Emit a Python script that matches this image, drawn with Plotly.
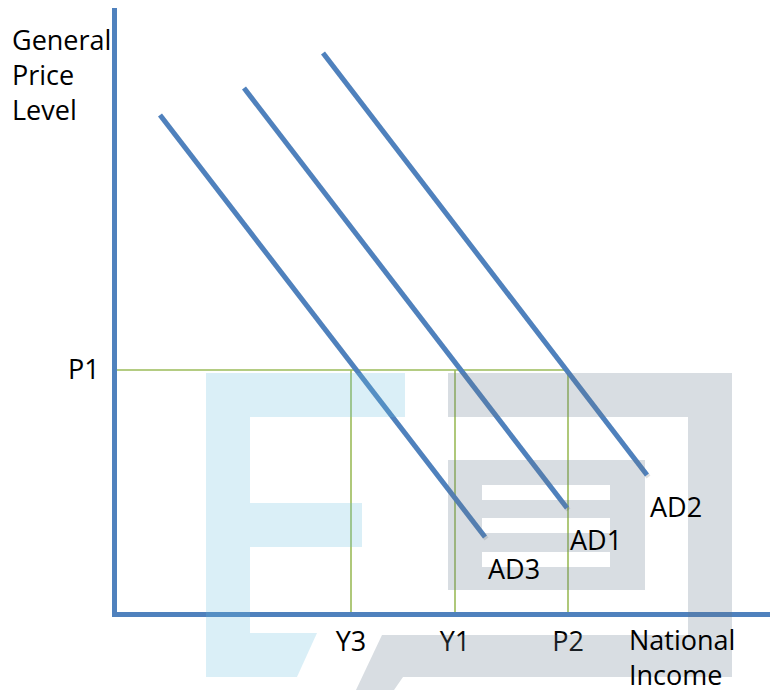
import plotly.graph_objects as go

# ---- data (axis units) ----
ad_names = ["AD3", "AD1", "AD2"]
ad_x_start = [4.3, 12.7, 20.6]
ad_y_start = [49.7, 52.4, 55.9]
ad_x_end = [36.8, 45.0, 53.0]
ad_y_end = [7.5, 10.4, 13.7]

price_level_p1 = 24.2
price_tick_labels = ["P1"]

income_values = [23.4, 33.8, 45.1]
income_tick_labels = ["Y3", "Y1", "P2"]

x_axis_title = "National<br>Income"
y_axis_title = "General<br>Price<br>Level"

# ---- styling ----
BLUE = "rgb(79,129,189)"
GREEN = "rgb(155,187,89)"
FONT = "Open Sans"
FS = 27
W, H = 770, 690
ML, MR, MT, MB = 117, 0, 8, 78
X_MAX = (W - ML - MR) / 10.0
Y_MAX = (H - MT - MB) / 10.0

fig = go.Figure()

# guide lines
fig.add_trace(go.Scatter(x=[0, max(income_values)], y=[price_level_p1, price_level_p1],
                         mode="lines", line=dict(color=GREEN, width=1.6),
                         hoverinfo="skip", showlegend=False))
for xv in income_values:
    fig.add_trace(go.Scatter(x=[xv, xv], y=[0, price_level_p1], mode="lines",
                             line=dict(color=GREEN, width=1.6),
                             hoverinfo="skip", showlegend=False))

# AD curves (with a faint shadow)
for name, x0, y0, x1, y1 in zip(ad_names, ad_x_start, ad_y_start, ad_x_end, ad_y_end):
    fig.add_trace(go.Scatter(x=[x0 + 0.15, x1 + 0.15], y=[y0 - 0.2, y1 - 0.2], mode="lines",
                             line=dict(color="rgba(0,0,0,0.12)", width=5),
                             hoverinfo="skip", showlegend=False))
    fig.add_trace(go.Scatter(x=[x0, x1], y=[y0, y1], mode="lines", name=name,
                             line=dict(color=BLUE, width=5), showlegend=False))
    fig.add_annotation(x=x1, y=y1, text=name, showarrow=False, xanchor="left",
                       yanchor="top", yshift=-11, xshift=1,
                       font=dict(family=FONT, size=FS, color="black"))

# watermark shapes (pixel space -> paper)
def pp(xp, yp):
    return ((xp - ML) / (W - ML - MR), (H - MB - yp) / (H - MT - MB))

# axis titles
tx, _ = pp(628, 0)
fig.add_annotation(x=tx, xref="paper", y=0, yref="y", text=x_axis_title, showarrow=False,
                   xanchor="left", yanchor="top", yshift=-8, align="left", borderpad=0,
                   font=dict(family=FONT, size=FS, color="black"))
gx, gy = pp(10, 19)
fig.add_annotation(x=gx, xref="paper", y=gy, yref="paper", text=y_axis_title,
                   showarrow=False, xanchor="left", yanchor="top", align="left",
                   font=dict(family=FONT, size=FS, color="black"))

def poly(points):
    parts = []
    for i, (xp, yp) in enumerate(points):
        x, y = pp(xp, yp)
        parts.append(("M" if i == 0 else "L") + f"{x:.5f},{y:.5f}")
    return " ".join(parts) + " Z"

def rect(x0, y0, x1, y1):
    return [(x0, y0), (x1, y0), (x1, y1), (x0, y1)]

LB = "rgba(100,190,220,0.24)"
GR = "rgba(100,120,140,0.25)"
wm = [
    (LB, [(206, 373), (405, 373), (405, 417), (250, 417), (250, 503), (362, 503),
          (362, 547), (250, 547), (250, 633), (317, 633), (297, 677), (206, 677)]),
    (GR, rect(448, 373, 732, 417)),
    (GR, rect(688, 417, 732, 635)),
    (GR, [(382, 635), (732, 635), (732, 677), (403, 677), (394, 690), (356, 690)]),
    # inner box, drawn around its three white stripes
    (GR, rect(448, 460, 645, 485)),
    (GR, rect(448, 567, 645, 590)),
    (GR, rect(448, 485, 482, 567)),
    (GR, rect(610, 485, 645, 567)),
    (GR, rect(482, 500, 610, 518)),
    (GR, rect(482, 533, 610, 552)),
]
for col, pts in wm:
    fig.add_shape(type="path", path=poly(pts), xref="paper", yref="paper",
                  fillcolor=col, line=dict(width=0), layer="above")

fig.update_layout(
    width=W, height=H,
    margin=dict(l=ML, r=MR, t=MT, b=MB),
    plot_bgcolor="white", paper_bgcolor="white",
    showlegend=False,
    xaxis=dict(range=[0, X_MAX], showgrid=False, zeroline=False,
               showline=True, linecolor=BLUE, linewidth=5,
               tickvals=income_values, ticktext=income_tick_labels, ticks="",
               ticklabelstandoff=2,
               tickfont=dict(family=FONT, size=FS, color="black")),
    yaxis=dict(range=[0, Y_MAX], showgrid=False, zeroline=False,
               showline=True, linecolor=BLUE, linewidth=5,
               tickvals=[price_level_p1], ticktext=price_tick_labels, ticks="",
               ticklabelstandoff=7,
               tickfont=dict(family=FONT, size=FS, color="black")),
)

fig.write_html("out.html", config={"displayModeBar": False},
               post_script="document.body.style.margin='0px';document.body.style.overflow='hidden';")
